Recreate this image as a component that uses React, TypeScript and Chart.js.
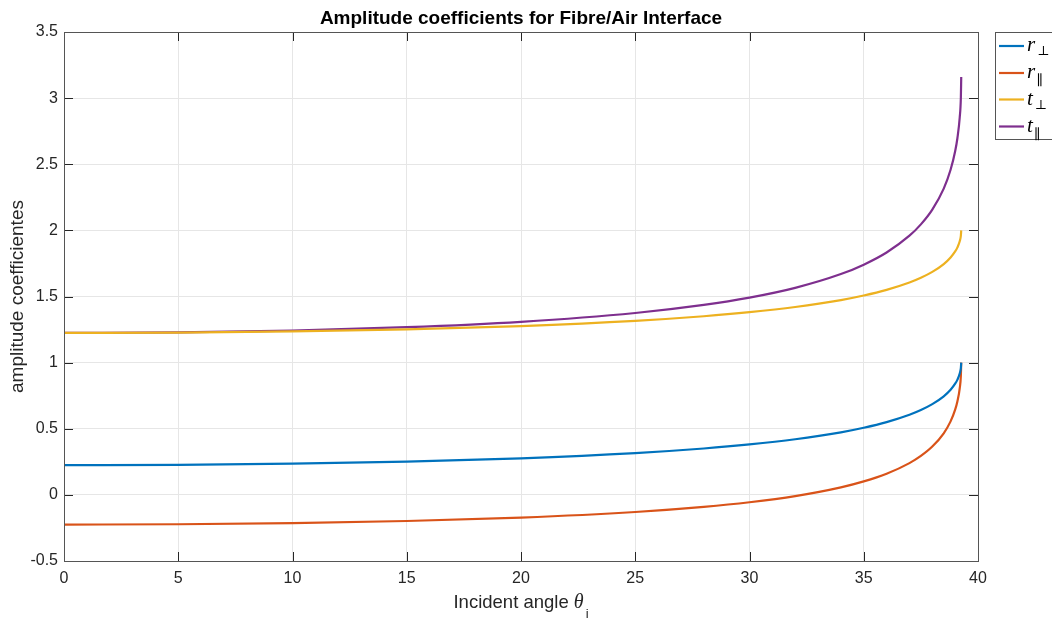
import React, { useEffect, useRef } from "react";
import { Chart, registerables } from "chart.js";
Chart.register(...registerables);

const chartTitle = "Amplitude coefficients for Fibre/Air Interface";
const xTitleMain = "Incident angle ";
const xTitleSymbol = "θ";
const xTitleSub = "i";
const yTitle = "amplitude coefficientes";

const angles = [0, 5, 10, 15, 20, 25, 28, 30, 32, 34, 35, 36, 37, 37.5, 38, 38.5, 38.8, 39, 39.1, 39.2, 39.25, 39.266];
const rPerp = [0.2248, 0.2275, 0.2361, 0.2516, 0.2766, 0.3159, 0.3507, 0.3812, 0.4204, 0.4732, 0.5076, 0.5503, 0.606, 0.6417, 0.686, 0.7452, 0.7948, 0.8406, 0.8718, 0.9174, 0.9593, 1.0];
const rPar = [-0.2248, -0.2221, -0.2135, -0.1977, -0.1718, -0.1296, -0.091, -0.056, -0.0093, 0.0567, 0.1017, 0.1599, 0.2403, 0.2946, 0.3653, 0.4658, 0.5558, 0.6444, 0.708, 0.8059, 0.9014, 1.0];
const tPerp = [1.2248, 1.2275, 1.2361, 1.2516, 1.2766, 1.3159, 1.3507, 1.3812, 1.4204, 1.4732, 1.5076, 1.5503, 1.606, 1.6417, 1.686, 1.7452, 1.7948, 1.8406, 1.8718, 1.9174, 1.9593, 2.0];
const tPar = [1.2248, 1.2291, 1.2427, 1.2677, 1.3086, 1.3753, 1.4363, 1.4916, 1.5654, 1.6696, 1.7407, 1.8327, 1.9597, 2.0455, 2.1571, 2.316, 2.4582, 2.5981, 2.6986, 2.8533, 3.0042, 3.16];

const seriesBase = ["r", "r", "t", "t"];
const seriesSub = ["⊥", "∥", "⊥", "∥"];
const seriesColors = ["#0072BD", "#D95319", "#EDB120", "#7E2F8E"];

const xTicks = [0, 5, 10, 15, 20, 25, 30, 35, 40];
const xTickLabels = ["0", "5", "10", "15", "20", "25", "30", "35", "40"];
const yTicks = [-0.5, 0, 0.5, 1, 1.5, 2, 2.5, 3, 3.5];
const yTickLabels = ["-0.5", "0", "0.5", "1", "1.5", "2", "2.5", "3", "3.5"];

const SANS = '"Liberation Sans", Arial, sans-serif';
const SERIF = '"Liberation Serif", "DejaVu Serif", serif';

export default function App() {
  const ref = useRef<HTMLCanvasElement>(null);
  useEffect(() => {
    document.body.style.margin = "0";
    const canvas = ref.current!;
    const pts = (ys: number[]) => angles.map((a, i) => ({ x: a, y: ys[i] }));
    const allSeries = [rPerp, rPar, tPerp, tPar];

    const overlay = {
      id: "overlay",
      afterDraw(chart: any) {
        const c: CanvasRenderingContext2D = chart.ctx;
        const { left, right, top, bottom } = chart.chartArea;
        const xs = chart.scales.x;
        const ys = chart.scales.y;
        c.save();
        // ticks (inward, all sides)
        c.strokeStyle = "#262626";
        c.lineWidth = 1;
        c.beginPath();
        xTicks.forEach((v) => {
          const p = Math.round(xs.getPixelForValue(v)) + 0.5;
          c.moveTo(p, bottom);
          c.lineTo(p, bottom - 9);
          c.moveTo(p, top);
          c.lineTo(p, top + 9);
        });
        yTicks.forEach((v) => {
          const p = Math.round(ys.getPixelForValue(v)) + 0.5;
          c.moveTo(left, p);
          c.lineTo(left + 9, p);
          c.moveTo(right, p);
          c.lineTo(right - 9, p);
        });
        c.stroke();
        // box
        c.strokeStyle = "#555555";
        c.strokeRect(Math.round(left) + 0.5, Math.round(top) + 0.5, Math.round(right - left), Math.round(bottom - top));

        // title
        c.fillStyle = "#000000";
        c.font = `bold 19px ${SANS}`;
        c.textAlign = "center";
        c.textBaseline = "middle";
        c.fillText(chartTitle, (left + right) / 2, 19);

        // x title with subscript
        c.fillStyle = "#262626";
        c.textAlign = "left";
        c.textBaseline = "alphabetic";
        const mainFont = `18.5px ${SANS}`;
        const symFont = `italic 20px ${SERIF}`;
        const subFont = `13px ${SANS}`;
        c.font = mainFont;
        const w1 = c.measureText(xTitleMain).width;
        c.font = symFont;
        const w2 = c.measureText(xTitleSymbol).width;
        c.font = subFont;
        const w3 = c.measureText(xTitleSub).width;
        let x0 = (left + right) / 2 - (w1 + w2 + w3 + 2) / 2;
        const base = 608;
        c.font = mainFont;
        c.fillText(xTitleMain, x0, base);
        x0 += w1;
        c.font = symFont;
        c.fillText(xTitleSymbol, x0, base);
        x0 += w2 + 2;
        c.font = subFont;
        c.fillText(xTitleSub, x0, base + 10);

        // y title
        c.save();
        c.translate(18, (top + bottom) / 2);
        c.rotate(-Math.PI / 2);
        c.font = `19px ${SANS}`;
        c.textAlign = "center";
        c.textBaseline = "middle";
        c.fillText(yTitle, 0, 0);
        c.restore();

        // legend
        c.fillStyle = "#ffffff";
        c.fillRect(996, 33, 60, 106);
        c.strokeStyle = "#555555";
        c.lineWidth = 1;
        c.strokeRect(995.5, 32.5, 70, 107);
        const rowY = [46, 73, 99.5, 126.5];
        seriesBase.forEach((b, i) => {
          const y = rowY[i];
          c.strokeStyle = seriesColors[i];
          c.lineWidth = 2.2;
          c.beginPath();
          c.moveTo(999, y);
          c.lineTo(1024, y);
          c.stroke();
          c.fillStyle = "#000000";
          c.textAlign = "left";
          c.textBaseline = "alphabetic";
          c.font = `italic 21px ${SERIF}`;
          c.fillText(b, 1027, y + 5);
          const bw = c.measureText(b).width;
          if (seriesSub[i] === "⊥") {
            c.font = `13px "DejaVu Serif", serif`;
            c.fillText(seriesSub[i], 1027 + bw + 2, y + 9);
          } else {
            c.font = `14px "DejaVu Serif", serif`;
            c.fillText(seriesSub[i], 1027 + bw + 1, y + 12);
          }
        });
        c.restore();
      },
    };

    const chart = new Chart(canvas, {
      type: "line",
      data: {
        datasets: allSeries.map((s, i) => ({
          label: seriesBase[i] + seriesSub[i],
          data: pts(s),
          borderColor: seriesColors[i],
          backgroundColor: seriesColors[i],
          borderWidth: 2.2,
          pointRadius: 0,
          fill: false,
          cubicInterpolationMode: "monotone" as const,
        })),
      },
      options: {
        animation: false,
        responsive: false,
        devicePixelRatio: 1,
        layout: { padding: { top: 32, right: 74, left: 0, bottom: 0 } },
        plugins: { legend: { display: false }, title: { display: false }, tooltip: { enabled: false } },
        scales: {
          x: {
            type: "linear",
            min: 0,
            max: 40,
            afterFit: (s: any) => {
              s.height = 60;
            },
            afterBuildTicks: (s: any) => {
              s.ticks = xTicks.map((v) => ({ value: v }));
            },
            ticks: {
              callback: (_v: any, i: number) => xTickLabels[i],
              font: { family: SANS, size: 16 },
              color: "#262626",
              padding: 8,
              maxRotation: 0,
              autoSkip: false,
            },
            grid: { color: "#e6e6e6", drawTicks: false },
            border: { display: false },
          },
          y: {
            type: "linear",
            min: -0.5,
            max: 3.5,
            afterFit: (s: any) => {
              s.width = 64;
            },
            afterBuildTicks: (s: any) => {
              s.ticks = yTicks.map((v) => ({ value: v }));
            },
            ticks: {
              callback: (_v: any, i: number) => yTickLabels[i],
              font: { family: SANS, size: 16 },
              color: "#262626",
              padding: 6,
              autoSkip: false,
            },
            grid: { color: "#e6e6e6", drawTicks: false },
            border: { display: false },
          },
        },
      },
      plugins: [overlay],
    });
    return () => chart.destroy();
  }, []);
  return (
    <div style={{ width: 1052, height: 621 }}>
      <canvas ref={ref} width={1052} height={621} style={{ display: "block" }} />
    </div>
  );
}
